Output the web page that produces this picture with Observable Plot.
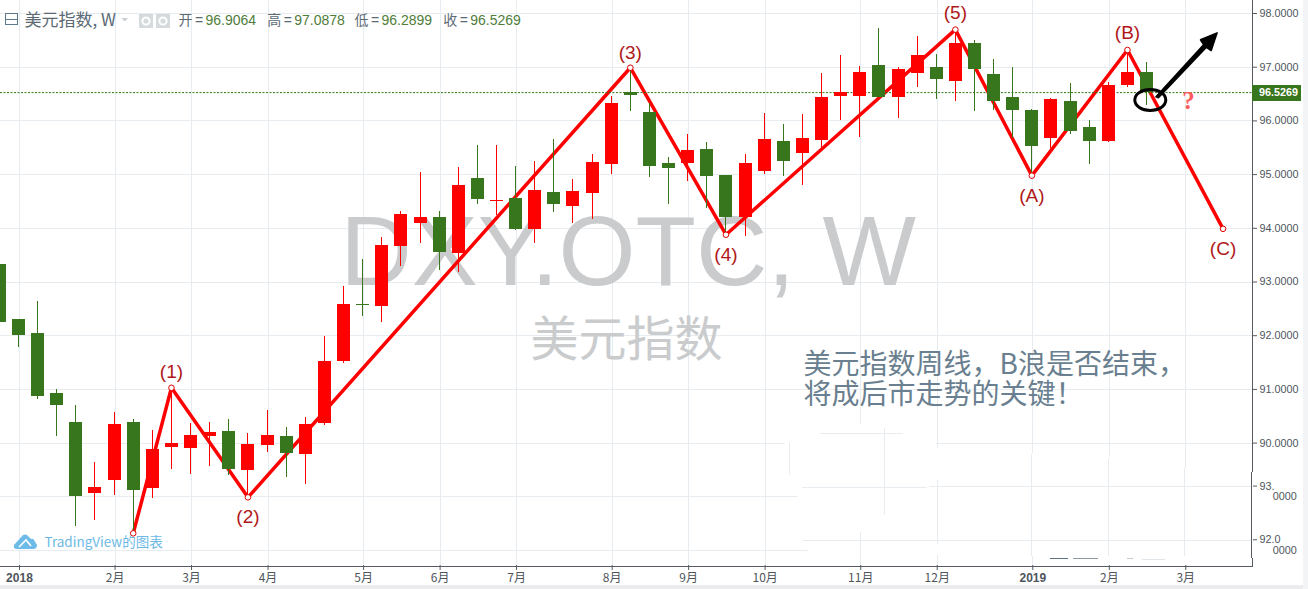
<!DOCTYPE html>
<html lang="zh">
<head>
<meta charset="utf-8">
<script src="https://cdn.jsdelivr.net/npm/d3@7"></script>
<script src="https://cdn.jsdelivr.net/npm/@observablehq/plot@0.6"></script>
<style>
html,body{margin:0;padding:0;background:#fff;overflow:hidden}
#chart{width:1308px;height:589px}
svg{display:block}
</style>
</head>
<body>
<div id="chart"></div>
<script>
// Weekly bars, index -1 … 59 (index 0 = first week of 2018)
const opens  = [93.33,92.30,92.04,90.92,90.38,89.06,89.30,90.38,89.15,89.92,89.90,90.12,90.21,89.49,89.96,90.12,89.79,90.37,91.52,92.59,92.55,93.66,94.09,94.21,93.53,94.93,94.50,94.56,93.98,94.67,94.41,94.65,95.18,96.52,96.15,95.21,95.20,95.46,94.99,94.21,95.05,95.62,95.40,95.64,96.46,96.45,97.04,96.43,96.89,97.00,96.74,97.45,96.86,96.43,96.20,95.68,96.37,95.87,95.62,96.65,96.9064];
const closes = [92.25,92.01,90.87,90.70,89.00,89.18,90.34,89.12,89.89,89.99,90.14,90.19,89.51,89.97,90.14,89.81,90.34,91.52,92.58,92.56,93.68,94.26,94.21,93.55,94.80,94.54,94.52,93.98,94.71,94.45,94.69,95.23,96.33,96.48,95.16,95.12,95.44,94.97,94.21,95.20,95.66,95.25,95.68,96.43,96.52,96.91,96.43,96.95,97.21,96.78,97.45,96.95,96.37,96.20,95.53,96.39,95.81,95.61,96.65,96.91,96.5269];
const highs  = [93.33,92.30,92.64,91.00,90.70,89.63,90.57,90.44,90.23,90.98,90.36,90.38,90.44,90.17,90.60,90.29,90.47,91.98,92.92,93.42,93.83,94.32,95.03,94.32,95.14,95.55,95.55,95.16,95.25,95.66,94.91,95.38,96.46,97.00,96.33,95.31,95.74,95.59,94.99,95.38,96.13,95.94,96.11,96.88,97.21,97.02,97.72,97.00,97.57,97.23,97.72,97.49,97.14,96.99,96.22,96.41,96.69,96.00,96.71,97.32,97.0878];
const lows   = [92.25,91.78,90.81,90.12,88.44,88.56,89.02,88.31,88.97,89.51,89.42,89.56,89.40,88.99,89.83,89.36,89.23,90.33,91.49,92.36,92.25,93.29,93.72,93.22,93.18,94.45,94.24,93.95,93.72,94.30,94.09,94.17,95.01,96.17,94.95,94.45,94.88,94.37,93.89,93.85,95.01,94.97,94.80,95.51,96.00,95.70,96.43,96.05,96.63,96.39,96.37,96.18,96.20,95.68,94.99,95.49,95.75,95.18,95.59,96.63,96.2899];
const firstIndex = -1;

// Time axis: bar index of each labelled month
const monthIdx    = [0,5,9,13,18,22,26,31,35,39,44,48,53,57,61];
const monthLabels = ["2018","2月","3月","4月","5月","6月","7月","8月","9月","10月","11月","12月","2019","2月","3月"];
const yearLabels  = ["2018","2019"];

// Price axis
const priceTicks  = [98,97,96,95,94,93,92,91,90,89.2,88.2];
const priceLabels = ["98.0000","97.0000","96.0000","95.0000","94.0000","93.0000","92.0000","91.0000","90.0000","93.","92.0"];
const lastPrice = 96.5269;

// Elliott wave count drawn on the chart
const waveX      = [6,8,12,32,37,49,53,58,63];
const wavePrice  = [88.32,91.03,88.99,96.99,93.88,97.70,94.98,97.32,93.99];
const waveNames  = ["(1)","(2)","(3)","(4)","(5)","(A)","(B)","(C)"];
const waveNameX  = [8,12,32,37,49,53,58,63];
const waveNameY  = [91.32,88.63,97.27,93.51,98.02,94.61,97.63,93.62];

// Hand-drawn arrow outline
const arrowX = [59.49,61.98,61.82,62.69,62.38,62.13,59.62,59.49];
const arrowY = [96.45,97.42,97.51,97.64,97.31,97.37,96.43,96.45];

// Header readout
const ohlcNames  = ["开","高","低","收"];
const ohlcValues = ["96.9064","97.0878","96.2899","96.5269"];

// Pasted-over lower-right patch: white areas and the grid pieces left showing
const patchRects = [[40.09,90.35,64.5,89.45],[40.77,89.45,64.5,88.5],[41.29,88.5,64.5,87.7]];
const gridPiecesV = [[44.04,87.70,88.33],[48.04,89.9,90.35],[48.04,88.12,89.3],[48.04,87.70,87.9],
  [53.03,89.8,90.35],[52.98,87.88,89.78],[53.03,87.7,87.88],[57.06,89.74,90.35],[57.01,87.88,89.72],
  [61.04,89.52,90.35],[60.98,87.88,89.52],[45.29,88.66,90.27],[40.32,89.39,90.0]];
const gridPiecesH = [[90.17,41.92,46.31],[90,48.03,64.5],[89.2,47.67,64.5],[89.17,41.03,47.52],[88.19,41.08,64.5]];
const smudges = [[53.95,54.9,87.85,"#5f7282"],[55.2,56.5,87.85,"#8b99a3"],[58.0,58.3,87.85,"#c4ccd2"],[58.8,60.0,87.84,"#dfe5e8"]];

const x0 = 18, dx = 19.12;
const candles = opens.map((o, k) => ({
  i: k + firstIndex, o, c: closes[k], h: highs[k], l: lows[k],
  dir: closes[k] >= o ? "up" : "down"
}));

const GRID = "#e6ecf0", AXIS = "#555b60", LABEL = "#4e555b";
const FONT = '"Liberation Sans","Noto Sans CJK SC",sans-serif';
const CJK = '"Noto Sans CJK SC","Liberation Sans",sans-serif';

function head(text, dxv, opts = {}) {
  return Plot.text([text], {frameAnchor: "top-left", dx: dxv, dy: 20, text: d => d, lineAnchor: "middle",
    textAnchor: "start", fontSize: 14, fill: "#5c6a74", fontFamily: FONT, ...opts});
}

const chrome = (index, scales, values, dims) => {
  const g = d3.create("svg:g");
  // collapse box
  g.append("rect").attr("x",5.5).attr("y",13.5).attr("width",12).attr("height",11).attr("fill","none").attr("stroke","#5d7a8c");
  g.append("line").attr("x1",5.5).attr("x2",17.5).attr("y1",19.5).attr("y2",19.5).attr("stroke","#5d7a8c");
  // dropdown caret
  g.append("path").attr("d","M121.5,18 L128,18 L124.7,21.5 Z").attr("fill","#c9ced2");
  // eye + gear buttons
  for (const bx of [139,156]) {
    g.append("rect").attr("x",bx).attr("y",14).attr("width",14).attr("height",14).attr("fill","#d5dadd");
    g.append("circle").attr("cx",bx+7).attr("cy",21).attr("r",3.6).attr("fill","none").attr("stroke","#fff").attr("stroke-width",2);
  }
  // TradingView cloud
  g.append("path").attr("d","M14,545 L23,535 Q25,534 27,535 L31,539 Q33,538 34,540 L37,545 Q37,549 33,549 L17,549 Q13,549 14,545 Z").attr("fill","#6dbbe8");
  g.append("path").attr("d","M19,547 L26,540 L31,546").attr("fill","none").attr("stroke","#fff").attr("stroke-width",1.6);
  // page edge strips
  g.append("rect").attr("x",0).attr("y",585).attr("width",1308).attr("height",4).attr("fill","#ececee");
  g.append("rect").attr("x",1303).attr("y",0).attr("width",5).attr("height",589).attr("fill","#f3f4f6");
  return g.node();
};

const ring = (index, {x, y}) =>
  d3.create("svg:ellipse").attr("cx", x(59.22)).attr("cy", y(96.38)).attr("rx", 15.5).attr("ry", 10.5)
    .attr("fill", "none").attr("stroke", "#000").attr("stroke-width", 3).node();

const waveLine = waveX.map((x, k) => ({x, y: wavePrice[k]}));
const arrow = arrowX.map((x, k) => ({x, y: arrowY[k]}));
const names = waveNames.map((t, k) => ({t, x: waveNameX[k], y: waveNameY[k]}));
const yearSet = new Set(yearLabels);
const gridIdx = monthIdx.map(i => i + 0.05);
const labelOf = d => monthLabels[gridIdx.indexOf(d)];

const chart = Plot.plot({
  width: 1308, height: 589,
  marginTop: 0, marginLeft: 0, marginRight: 56, marginBottom: 24,
  style: {fontFamily: FONT, background: "#fff", overflow: "visible"},
  x: {domain: [0, 59], range: [x0, x0 + 59 * dx], axis: null},
  y: {domain: [88, 98], range: [550, 13], axis: null},
  color: {domain: ["up", "down"], range: ["#ff0000", "#38761d"]},
  marks: [
    // grid
    Plot.ruleX(gridIdx, {stroke: GRID, shapeRendering: "crispEdges"}),
    Plot.ruleY(priceTicks.slice(0, 9).concat([89, 88]), {stroke: GRID, shapeRendering: "crispEdges"}),
    // pasted patch
    Plot.rect(patchRects, {x1: d => d[0], y1: d => d[1], x2: d => d[2], y2: d => d[3], fill: "#fff"}),
    Plot.ruleX(gridPiecesV, {x: d => d[0], y1: d => d[1], y2: d => d[2], stroke: GRID, shapeRendering: "crispEdges"}),
    Plot.ruleY(gridPiecesH, {y: d => d[0], x1: d => d[1], x2: d => d[2], stroke: GRID, shapeRendering: "crispEdges"}),
    Plot.ruleY(smudges, {y: d => d[2], x1: d => d[0], x2: d => d[1], stroke: d => d[3], shapeRendering: "crispEdges"}),
    // watermarks
    Plot.text(["DXY.OTC, W"], {x: 31.88, y: 93.525, fontSize: 99, fill: "#c9cbcd", fontFamily: FONT, text: d => d, textAnchor: "middle"}),
    Plot.text(["美元指数"], {x: 31.8, y: 91.91, fontSize: 48, fill: "#c9cbcd", fontFamily: CJK, text: d => d, textAnchor: "middle"}),
    // commentary
    Plot.text(["美元指数周线，B浪是否结束，"], {x: 41.06, y: 91.45, fontSize: 28, fill: "#6a7f8f", fontFamily: CJK, text: d => d, textAnchor: "start"}),
    Plot.text(["将成后市走势的关键！"], {x: 41.06, y: 90.90, fontSize: 28, fill: "#6a7f8f", fontFamily: CJK, text: d => d, textAnchor: "start"}),
    // wave and last-price line behind the candles
    Plot.line(waveLine, {x: "x", y: "y", stroke: "#ff0000", strokeWidth: 3.5, curve: "linear", strokeLinejoin: "miter"}),
    Plot.ruleY([lastPrice], {stroke: "#2f7a12", strokeDasharray: "2 1.5", strokeWidth: 1}),
    // candles
    Plot.ruleX(candles, {x: "i", y1: "l", y2: "h", stroke: "dir", strokeWidth: 1, shapeRendering: "crispEdges"}),
    Plot.ruleX(candles, {x: "i", y1: "o", y2: "c", stroke: "dir", strokeWidth: 13, shapeRendering: "crispEdges"}),
    // wave vertices and labels
    Plot.dot(waveLine, {x: "x", y: "y", r: 2.8, fill: "#fff", stroke: "#e00000", strokeWidth: 1}),
    Plot.text(names, {x: "x", y: "y", text: "t", fontSize: 19, fill: "#b01818", fontFamily: FONT}),
    // annotations
    ring,
    Plot.line(arrow, {x: "x", y: "y", fill: "#000", stroke: "#000", strokeWidth: 1.5}),
    Plot.text(["?"], {x: 61.19, y: 96.37, fontSize: 25, fontWeight: "bold", fill: "#ff5d5d", fontFamily: '"Liberation Serif",serif', text: d => d}),
    // axes
    Plot.axisX(gridIdx.filter(d => !yearSet.has(labelOf(d))), {anchor: "bottom", tickSize: 5, tickPadding: 3, tickFormat: labelOf, fontSize: 12, stroke: AXIS, fill: LABEL, fontFamily: CJK, label: null}),
    Plot.axisX(gridIdx.filter(d => yearSet.has(labelOf(d))), {anchor: "bottom", tickSize: 5, tickPadding: 3, tickFormat: labelOf, fontSize: 12, fontWeight: "bold", stroke: AXIS, fill: LABEL, fontFamily: FONT, label: null}),
    Plot.ruleY([87.7], {y: 87.7, stroke: AXIS, shapeRendering: "crispEdges", x1: -1, x2: 64.52}),
    Plot.ruleX([[64.52, 89.45, 98.3], [64.47, 87.85, 89.45], [64.52, 87.68, 87.85]], {x: d => d[0], y1: d => d[1], y2: d => d[2], stroke: AXIS, shapeRendering: "crispEdges"}),
    Plot.axisY(priceTicks, {anchor: "right", tickSize: 4, tickPadding: 3, tickFormat: d => priceLabels[priceTicks.indexOf(d)], fontSize: 10.8, stroke: AXIS, fill: LABEL, label: null}),
    Plot.text([[89, "0000"], [88, "0000"]], {x: 65.6, y: d => d[0], text: d => d[1], fontSize: 10.8, fill: LABEL, textAnchor: "start", fontFamily: FONT}),
    // last-price tag
    Plot.ruleY([lastPrice], {x1: 64.55, x2: 67.1, stroke: "#38761d", strokeWidth: 16, shapeRendering: "crispEdges"}),
    Plot.text([lastPrice], {x: 64.88, y: lastPrice, text: d => d.toFixed(4), fontSize: 10.8, fontWeight: "bold", fill: "#fff", textAnchor: "start", fontFamily: FONT}),
    // header and credit
    chrome,
    head("美元指数, W", 24, {fontSize: 17, fontFamily: CJK, fill: "#5c6a74"}),
    ...ohlcNames.flatMap((n, k) => {
      const base = [178, 266.7, 354, 442.7][k];
      return [
        head(n, base, {fontSize: 14, fontFamily: CJK}),
        head("=", base + 16.5, {fontSize: 14}),
        head(ohlcValues[k], base + 27, {fontSize: 14, fill: "#4f7d3a"})
      ];
    }),
    Plot.text(["TradingView的图表"], {frameAnchor: "top-left", dx: 44, dy: 542, text: d => d, lineAnchor: "middle", textAnchor: "start", fontSize: 13.5, fill: "#6cb9e6", fontFamily: CJK})
  ]
});
document.getElementById("chart").append(chart);
</script>
</body>
</html>
